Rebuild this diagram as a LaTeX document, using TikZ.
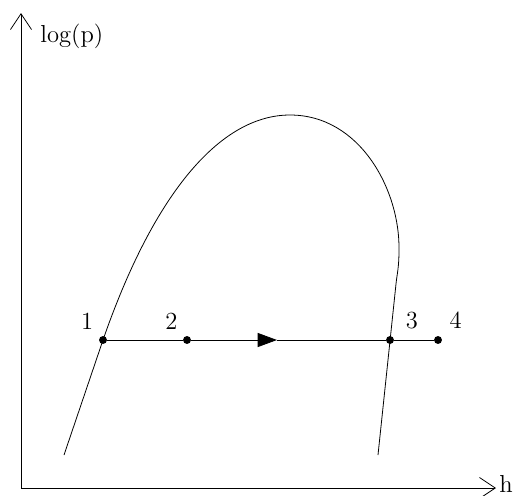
\documentclass[tikz,border=0pt]{standalone}
\usepackage{amsmath,amssymb}
\usetikzlibrary{arrows.meta}

\begin{document}
\begin{tikzpicture}[x=0.02cm,y=-0.02cm,font=\fontsize{14}{16}\selectfont,line width=0.45pt]
            \useasboundingbox (0,0) rectangle (515,495);
            \coordinate (O) at (21,488);
            \coordinate (ytip) at (21,13);
            \coordinate (xtip) at (496,488);
            \draw[-{Straight Barb[length=9pt,width=12pt]}] (O) -- (ytip);
            \draw[-{Straight Barb[length=9pt,width=12pt]}] (O) -- (xtip);
            \node[anchor=west,inner sep=0pt] at (40,36) (ylab) {log(p)};
            \node[anchor=west,inner sep=0pt] at (499,484) (xlab) {h};
            \coordinate (top) at (290,115);
            \draw (64,455) -- (103,340) .. controls (155,190) and (222,115) .. (top)
                  .. controls (360,115) and (400,190) .. (399,250)
                  .. controls (399,268) and (397,274) .. (396,284) -- (378,455);
            \node[draw,circle,fill=black,inner sep=0pt,minimum size=4pt,label={[label distance=1pt]130:1}] at (103,340) (p1) {};
            \node[draw,circle,fill=black,inner sep=0pt,minimum size=4pt,label={[label distance=1pt]125:2}] at (187,340) (p2) {};
            \node[draw,circle,fill=black,inner sep=0pt,minimum size=4pt,label={[label distance=4pt]28:3}] at (390,340) (p3) {};
            \node[draw,circle,fill=black,inner sep=0pt,minimum size=4pt,label={[label distance=2pt]45:4}] at (438,340) (p4) {};
            \coordinate (m) at (277,340);
            \draw (p1) -- (p2);
            \draw[-{Triangle[length=11pt,width=8pt]}] (p2) -- (m);
            \draw (m) -- (p3) -- (p4);
          \end{tikzpicture}
\end{document}
